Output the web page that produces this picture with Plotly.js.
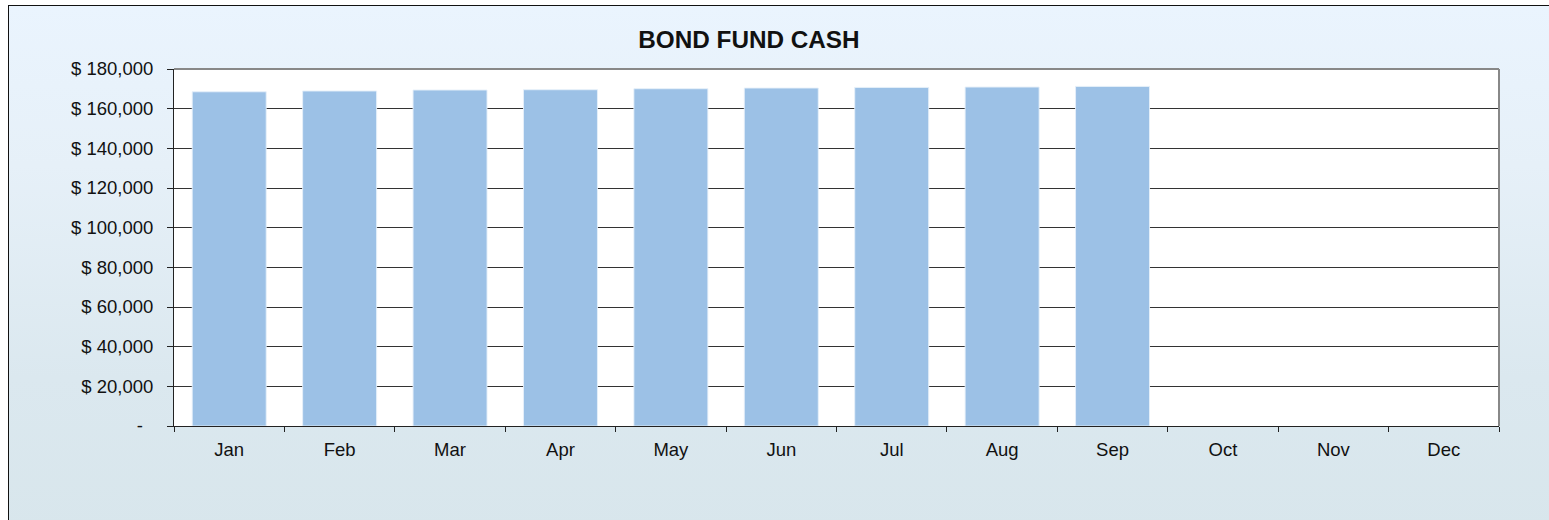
<!DOCTYPE html>
<html>
<head>
<meta charset="utf-8">
<script src="https://cdn.plot.ly/plotly-3.0.1.min.js"></script>
<style>
  html, body { margin: 0; padding: 0; background: #ffffff; }
  #frame {
    position: absolute; left: 8px; top: 5px; width: 1560px; height: 530px;
    border-left: 1px solid #111; border-top: 1px solid #111;
    background: linear-gradient(to bottom, #eaf4fe 0%, #e6f0f8 30%, #dbe8ef 70%, #d8e6ec 100%);
  }
  #chart { position: absolute; left: 0; top: 0; width: 1549px; height: 520px; }
</style>
</head>
<body>
<div id="frame"></div>
<div id="chart"></div>
<script>
const months = ['Jan','Feb','Mar','Apr','May','Jun','Jul','Aug','Sep','Oct','Nov','Dec'];
const cashValues = [168500, 168900, 169400, 169550, 170050, 170400, 170700, 170900, 171200, null, null, null];
const yTickVals = [0, 20000, 40000, 60000, 80000, 100000, 120000, 140000, 160000, 180000];
const yTickText = ['-\u00a0\u00a0', '$ 20,000', '$ 40,000', '$ 60,000', '$ 80,000', '$ 100,000', '$ 120,000', '$ 140,000', '$ 160,000', '$ 180,000'];

const trace = {
  type: 'bar',
  x: months,
  y: cashValues,
  marker: { color: '#9cc1e6', line: { color: 'rgba(230,240,250,0.9)', width: 1 } },
  hoverinfo: 'x+y'
};

const layout = {
  width: 1549, height: 520,
  margin: { l: 174, r: 50, t: 69, b: 94 },
  paper_bgcolor: 'rgba(0,0,0,0)',
  plot_bgcolor: '#ffffff',
  font: { family: 'Liberation Sans, Arial, sans-serif', color: '#111111', size: 18.5 },
  title: {
    text: '<b>BOND FUND CASH</b>',
    font: { family: 'Liberation Sans, Arial, sans-serif', size: 24.3, color: '#111111' },
    x: 0.4835, xref: 'container', xanchor: 'center',
    y: 0.925, yref: 'container', yanchor: 'middle'
  },
  bargap: 0.33,
  showlegend: false,
  xaxis: {
    type: 'category',
    categoryorder: 'array', categoryarray: months,
    range: [-0.5, 11.5],
    tickson: 'boundaries',
    ticks: 'outside', ticklen: 5, tickwidth: 1, tickcolor: '#222',
    ticklabelstandoff: 7,
    showline: true, linecolor: '#222', linewidth: 1,
    showgrid: false, zeroline: false,
    tickfont: { size: 18.5 }
  },
  yaxis: {
    range: [0, 180000],
    tickvals: yTickVals, ticktext: yTickText,
    ticks: 'outside', ticklen: 6, tickwidth: 1, tickcolor: '#222',
    ticklabelstandoff: 10,
    showline: true, linecolor: '#222', linewidth: 1,
    showgrid: true, gridcolor: '#333333', gridwidth: 1,
    zeroline: false,
    tickfont: { size: 18.5 }
  },
  shapes: [
    { type: 'line', xref: 'paper', yref: 'paper', x0: 0, x1: 1, y0: 1, y1: 1, line: { color: '#888888', width: 2 }, layer: 'above' },
    { type: 'line', xref: 'paper', yref: 'paper', x0: 1, x1: 1, y0: 0, y1: 1, line: { color: '#888888', width: 2 }, layer: 'above' }
  ]
};

Plotly.newPlot('chart', [trace], layout, { displayModeBar: false, staticPlot: true });
</script>
</body>
</html>
